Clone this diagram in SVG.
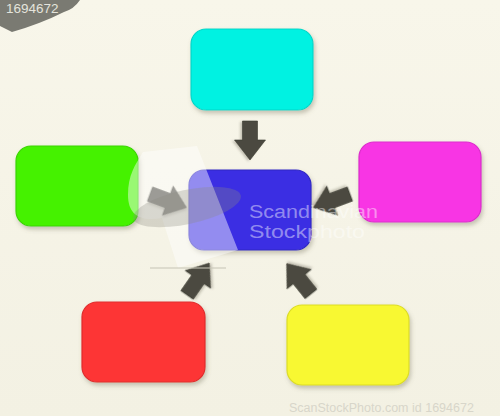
<svg xmlns="http://www.w3.org/2000/svg" width="500" height="416" viewBox="0 0 500 416">
<defs>
<linearGradient id="bg" x1="0" y1="0" x2="0" y2="1">
<stop offset="0" stop-color="#f8f6ea"/>
<stop offset="1" stop-color="#f3f1e3"/>
</linearGradient>
<filter id="sh" x="-20%" y="-20%" width="140%" height="150%">
<feDropShadow dx="1.5" dy="3" stdDeviation="2.2" flood-color="#6a6650" flood-opacity="0.35"/>
</filter>
<filter id="ash" x="-30%" y="-30%" width="160%" height="160%">
<feDropShadow dx="1" dy="2" stdDeviation="1.2" flood-color="#555040" flood-opacity="0.3"/>
</filter>
<path id="arrow" d="M0,-7.5 L19,-7.5 L19,-15.5 L39,0 L19,15.5 L19,7.5 L0,7.5 Z"/>
</defs>
<style>
.box{filter:url(#sh);stroke-width:1.2}
.arr{fill:#4b4a41;stroke:#3a392f;stroke-width:0.6;filter:url(#ash)}
.wm{font-family:"Liberation Sans",Arial,sans-serif}
</style>
<rect width="500" height="416" fill="url(#bg)"/>

<g id="node-top"><rect class="box" x="191" y="29" width="122" height="81" rx="15" fill="#05f2e2" stroke="#04d6c8"/></g>
<g id="node-left"><rect class="box" x="16" y="146" width="122" height="80" rx="15" fill="#44f200" stroke="#3bd400"/></g>
<g id="node-right"><rect class="box" x="359" y="142" width="122" height="80" rx="15" fill="#f834e4" stroke="#dc2ccb"/></g>
<g id="node-bottom-left"><rect class="box" x="82" y="302" width="123" height="80" rx="15" fill="#fd3636" stroke="#e02c2c"/></g>
<g id="node-bottom-right"><rect class="box" x="287" y="305" width="122" height="80" rx="15" fill="#f8f831" stroke="#dcdc25"/></g>
<g id="node-center"><rect class="box" x="189" y="170" width="122" height="80" rx="15" fill="#3b2fe3" stroke="#3026c4"/></g>

<g id="connectors">
<use href="#arrow" class="arr" transform="translate(250,121) rotate(90)"/>
<use href="#arrow" class="arr" transform="translate(350,194) rotate(159.6)"/>
<use href="#arrow" class="arr" transform="translate(150,194) rotate(20.4)"/>
<use href="#arrow" class="arr" transform="translate(187,295) rotate(-55.1)"/>
<use href="#arrow" class="arr" transform="translate(311,294) rotate(-128.7)"/>
</g>

<g id="watermark">
<path d="M143,152 L197,146 L238,250 L178,268 L162,218 C140,222 128,215 128,195 C128,175 135,165 143,152 Z" fill="#ffffff" fill-opacity="0.45"/>
<ellipse cx="187" cy="207" rx="55" ry="17" transform="rotate(-12 187 207)" fill="#8a8a80" fill-opacity="0.3"/>
<line x1="150" y1="268" x2="226" y2="268" stroke="#c8c6b8" stroke-width="1.5" stroke-opacity="0.7"/>
<text class="wm" x="249" y="218" font-size="18" textLength="129" lengthAdjust="spacingAndGlyphs" fill="#ffffff" fill-opacity="0.45">Scandinavian</text>
<text class="wm" x="249" y="238" font-size="18" textLength="116" lengthAdjust="spacingAndGlyphs" fill="#ffffff" fill-opacity="0.45">Stockphoto</text>
<path d="M0,0 L80,0 Q74,9 64,12 Q40,24 12,32 L0,26 Z" fill="#7a7a72"/>
<text class="wm" x="6" y="13" font-size="13.5" fill="#e4e4dc">1694672</text>
<text class="wm" x="289" y="412" font-size="12.5" fill="#d8d6ca">ScanStockPhoto.com id 1694672</text>
</g>
</svg>
